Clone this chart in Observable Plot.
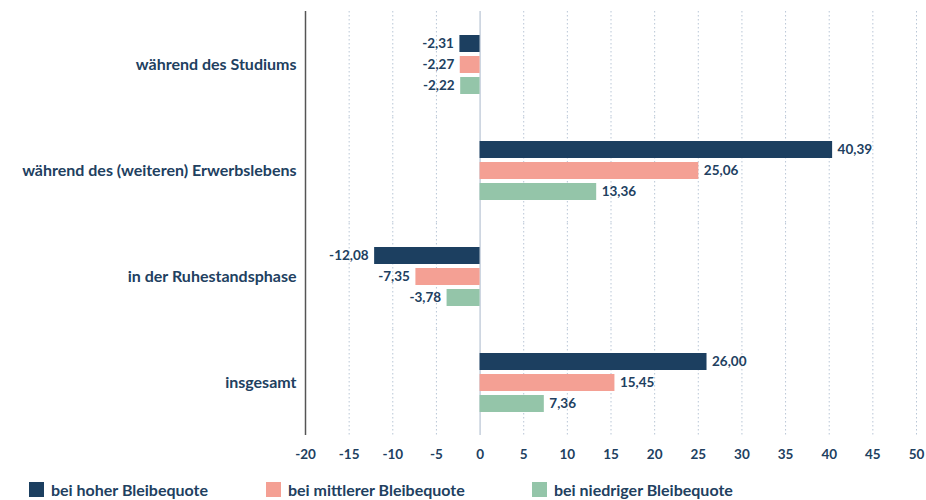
<!DOCTYPE html>
<html>
<head>
<meta charset="utf-8">
<script src="https://cdn.jsdelivr.net/npm/d3@7"></script>
<script src="https://cdn.jsdelivr.net/npm/@observablehq/plot@0.6"></script>
<style>
  html, body { margin: 0; padding: 0; background: #fff; }
  #wrap { position: relative; width: 926px; height: 500px; font-family: Lato, "Open Sans", sans-serif; }
  #legend { position: absolute; top: 480px; left: 0; width: 926px; height: 20px; }
  .item { position: absolute; top: 0; display: flex; align-items: center; font-weight: bold; font-size: 16px; color: #21405f; white-space: nowrap; }
  .sw { width: 15px; height: 15px; margin-right: 7px; display: inline-block; }
</style>
</head>
<body>
<div id="wrap">
  <div id="chart"></div>
  <div id="legend"></div>
</div>
<script>
const categories = ["während des Studiums", "während des (weiteren) Erwerbslebens", "in der Ruhestandsphase", "insgesamt"];
const series = ["bei hoher Bleibequote", "bei mittlerer Bleibequote", "bei niedriger Bleibequote"];
const hoch = [-2.31, 40.39, -12.08, 26.00];
const mittel = [-2.27, 25.06, -7.35, 15.45];
const niedrig = [-2.22, 13.36, -3.78, 7.36];
const xTicks = [-20, -15, -10, -5, 0, 5, 10, 15, 20, 25, 30, 35, 40, 45, 50];
const colors = ["#1c3f60", "#f4a094", "#94c5a9"];
const textColor = "#21405f";

const values = [hoch, mittel, niedrig];
const data = [];
categories.forEach((c, i) => {
  series.forEach((s, j) => data.push({category: c, series: s, value: values[j][i]}));
});
const fmt = v => v.toFixed(2).replace(".", ",");

const chart = Plot.plot({
  width: 926,
  height: 472,
  marginLeft: 305,
  marginRight: 10,
  marginTop: 10,
  marginBottom: 36,
  style: {fontFamily: "Lato, 'Open Sans', sans-serif", color: textColor, background: "#fff"},
  x: {domain: [-20, 50], axis: null, label: null},
  y: {domain: series, axis: null, label: null, paddingInner: 0.21, paddingOuter: 1.07},
  fy: {domain: categories, padding: 0, axis: null, label: null},
  color: {domain: series, range: colors},
  marks: [
    Plot.ruleX(xTicks.filter(t => t !== -20 && t !== 0), {stroke: "#b9c6d6", strokeDasharray: "1.5,2.5", strokeWidth: 1}),
    Plot.ruleX([0], {stroke: "#a8b7ca", strokeWidth: 1}),
    Plot.barX(data, {fy: "category", y: "series", x: "value", fill: "series"}),
    Plot.text(data.filter(d => d.value >= 0), {fy: "category", y: "series", x: "value", text: d => fmt(d.value), textAnchor: "start", dx: 5, fill: textColor, fontWeight: "bold", fontSize: 13.5}),
    Plot.text(data.filter(d => d.value < 0), {fy: "category", y: "series", x: "value", text: d => fmt(d.value), textAnchor: "end", dx: -6, fill: textColor, fontWeight: "bold", fontSize: 13.5}),
    Plot.ruleX([-20], {stroke: "#555", strokeWidth: 1.5}),
    Plot.axisFy({anchor: "left", label: null, tickSize: 0, tickPadding: 9, fontWeight: "bold", fontSize: 16, fill: textColor}),
    Plot.axisX({anchor: "bottom", label: null, ticks: xTicks, tickSize: 0, tickPadding: 14, tickFormat: d => String(d), fontWeight: "bold", fontSize: 13.5, fill: textColor, facetAnchor: "bottom"})
  ]
});
document.getElementById("chart").appendChild(chart);

const legend = document.getElementById("legend");
const lefts = [29, 266, 532];
series.forEach((s, i) => {
  const item = document.createElement("div");
  item.className = "item";
  item.style.left = lefts[i] + "px";
  const sw = document.createElement("span");
  sw.className = "sw";
  sw.style.background = colors[i];
  item.appendChild(sw);
  item.appendChild(document.createTextNode(s));
  legend.appendChild(item);
});
</script>
</body>
</html>
